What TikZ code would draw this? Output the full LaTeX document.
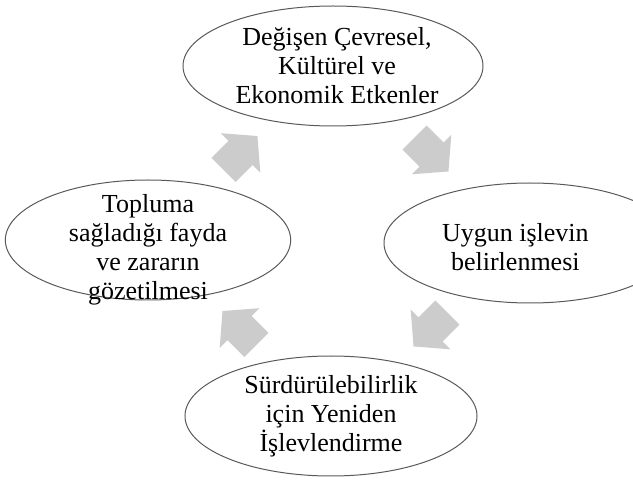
\documentclass[tikz,border=0pt]{standalone}
\usepackage{fontspec}
\setmainfont{Liberation Serif}
\usetikzlibrary{calc,shapes.geometric}
\tikzset{
  bubble/.style={ellipse,draw=black!65,line width=0.75pt,minimum width=219pt,minimum height=90pt,inner sep=0pt},
  bubbletext/.style={align=center,font=\fontsize{19.5}{21.75}\selectfont,inner sep=0pt},
  cyclearrow/.pic={
    \fill[black!20] (-24,-17) -- (0,-17) -- (0,-28) -- (24,0) -- (0,28) -- (0,17) -- (-24,17) -- cycle;
  },
}

\begin{document}
\begin{tikzpicture}[x=0.75pt,y=-0.75pt]
  \clip (0,0) rectangle (633,481);
  \useasboundingbox (0,0) rectangle (633,481);

  % the four stages
  \node[bubble,minimum width=225pt,label={[bubbletext,xshift=3pt]center:{Değişen Çevresel,\\Kültürel ve\\Ekonomik Etkenler}}] (top) at (333,66) {};
  \node[bubble,label={[bubbletext,xshift=-11pt,yshift=-3pt]center:{Uygun işlevin\\belirlenmesi}}] (right) at (530,243) {};
  \node[bubble,label={[bubbletext]center:{Sürdürülebilirlik\\için Yeniden\\İşlevlendirme}}] (bottom) at (331,416) {};
  \node[bubble,minimum width=214pt,label={[bubbletext,yshift=-7pt]center:{Topluma\\sağladığı fayda\\ve zararın\\gözetilmesi}}] (left) at (148,240) {};

  % arrows between them
  \path ($(left)!0.5!(top)$) pic[rotate=45] {cyclearrow};
  \path ($(top)!0.5!(right)$) pic[rotate=-45] {cyclearrow};
  \path ($(right)!0.5!(bottom)$) pic[rotate=-135] {cyclearrow};
  \path ($(bottom)!0.5!(left)$) pic[rotate=135] {cyclearrow};
\end{tikzpicture}
\end{document}
